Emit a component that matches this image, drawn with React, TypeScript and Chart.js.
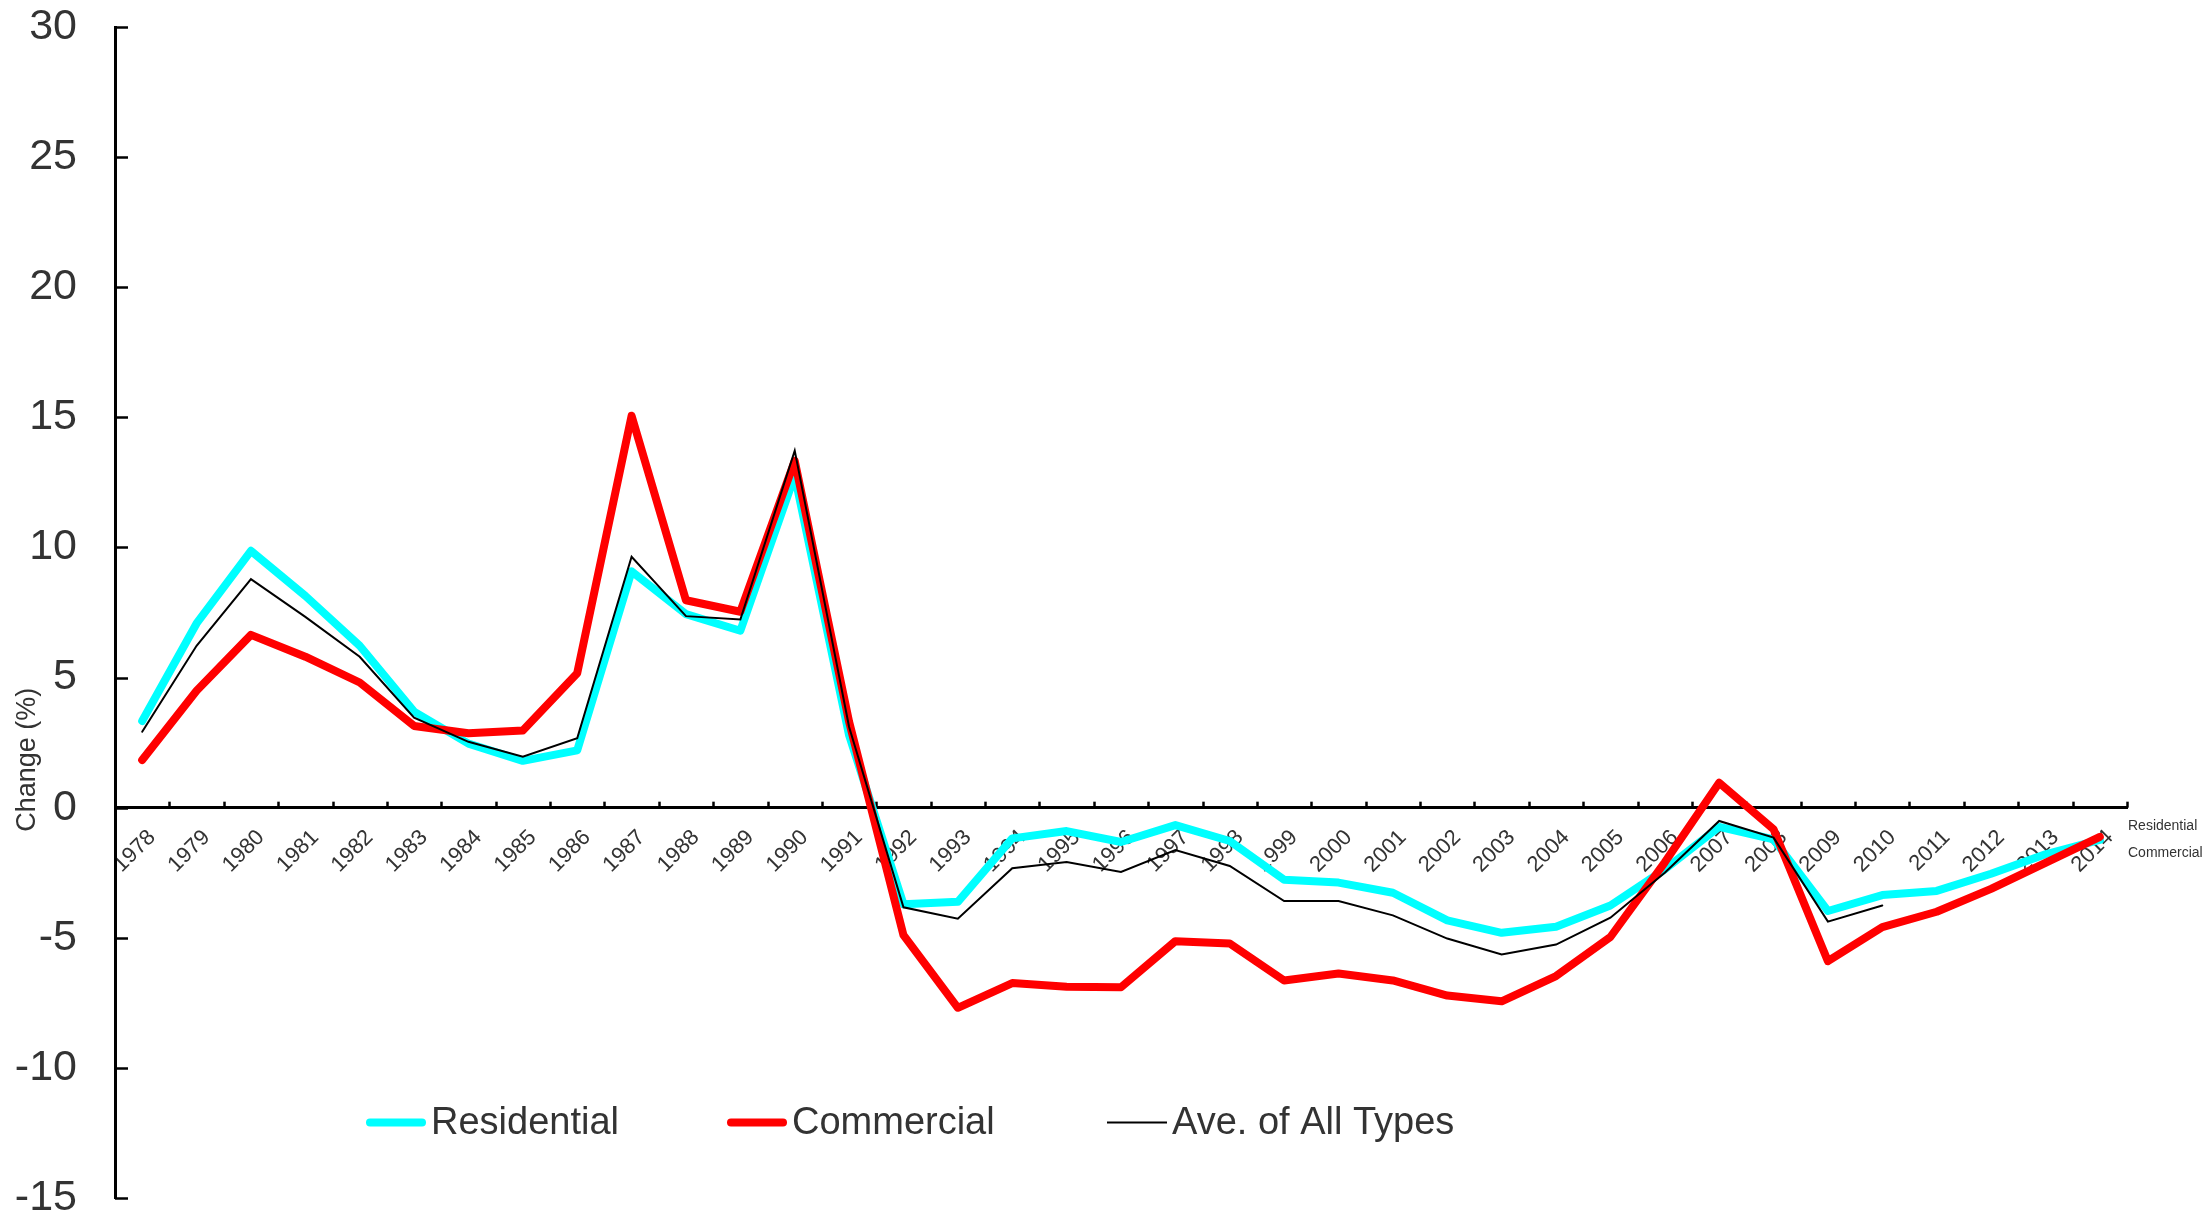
import React, { useEffect, useRef } from "react";
import { Chart, registerables } from "chart.js";

Chart.register(...registerables);

const years = [
  "1978", "1979", "1980", "1981", "1982", "1983", "1984", "1985", "1986", "1987",
  "1988", "1989", "1990", "1991", "1992", "1993", "1994", "1995", "1996", "1997",
  "1998", "1999", "2000", "2001", "2002", "2003", "2004", "2005", "2006", "2007",
  "2008", "2009", "2010", "2011", "2012", "2013", "2014",
];

const residential = [
  3.33, 7.08, 9.87, 8.14, 6.22, 3.69, 2.46, 1.8, 2.2, 9.08,
  7.44, 6.8, 12.76, 2.78, -3.71, -3.62, -1.18, -0.9, -1.32, -0.67,
  -1.28, -2.77, -2.88, -3.27, -4.33, -4.81, -4.58, -3.76, -2.37, -0.74,
  -1.22, -3.97, -3.36, -3.2, -2.54, -1.79, -1.24,
];

const commercial = [
  1.83, 4.49, 6.64, 5.8, 4.81, 3.14, 2.86, 2.97, 5.17, 15.06,
  7.97, 7.53, 13.33, 3.3, -4.9, -7.69, -6.74, -6.88, -6.9, -5.13,
  -5.22, -6.64, -6.37, -6.64, -7.22, -7.44, -6.47, -4.97, -2.1, 0.96,
  -0.83, -5.9, -4.59, -4.0, -3.12, -2.12, -1.12,
];

const averageAll = [
  2.92, 6.22, 8.78, 7.33, 5.8, 3.46, 2.53, 1.96, 2.67, 9.64,
  7.36, 7.23, 13.72, 3.1, -3.83, -4.27, -2.33, -2.09, -2.47, -1.63,
  -2.24, -3.59, -3.59, -4.14, -5.03, -5.64, -5.26, -4.23, -2.5, -0.51,
  -1.15, -4.38, -3.76, null, null, null, null,
];

const seriesNames = ["Residential", "Commercial", "Ave. of All Types"];
const seriesColors = ["#00FFFF", "#FF0000", "#000000"];
const seriesWidths = [8, 8, 2];

const yMin = -15;
const yMax = 30;
const yStep = 5;
const yTitle = "Change (%)";
const sideNotes = ["Residential", "Commercial"];

const FONT = '"Liberation Sans", Arial, Helvetica, sans-serif';
const TEXT = "#333333";

const decorPlugin = {
  id: "decor",
  beforeDatasetsDraw(chart: any) {
    const ctx = chart.ctx;
    const xs = chart.scales.x;
    const ys = chart.scales.y;
    const area = chart.chartArea;
    ctx.save();
    ctx.strokeStyle = "#000";
    ctx.lineWidth = 2.5;
    ys.ticks.forEach((t: any) => {
      const py = Math.round(ys.getPixelForValue(t.value)) + 0.5;
      ctx.beginPath();
      ctx.moveTo(area.left, py);
      ctx.lineTo(area.left + 13, py);
      ctx.stroke();
    });
    const y0 = ys.getPixelForValue(0);
    const half = (xs.getPixelForValue(1) - xs.getPixelForValue(0)) / 2;
    for (let i = 0; i < years.length; i++) {
      const px = Math.round(xs.getPixelForValue(i) + half) + 0.5;
      ctx.beginPath();
      ctx.moveTo(px, y0);
      ctx.lineTo(px, y0 - 6);
      ctx.stroke();
    }
    ctx.restore();
  },
  afterDraw(chart: any) {
    const ctx = chart.ctx;
    const area = chart.chartArea;
    const ys = chart.scales.y;
    ctx.save();
    ctx.fillStyle = TEXT;
    ctx.font = `27px ${FONT}`;
    ctx.translate(28, ys.getPixelForValue(1.84));
    ctx.rotate(-Math.PI / 2);
    ctx.textAlign = "center";
    ctx.textBaseline = "middle";
    ctx.fillText(yTitle, 0, 0);
    ctx.restore();

    ctx.save();
    const ly = ys.getPixelForValue(-12.1);
    const starts = [366, 727, 1107];
    const sample = 60;
    seriesNames.forEach((name, i) => {
      const x0 = starts[i];
      ctx.strokeStyle = seriesColors[i];
      ctx.lineWidth = seriesWidths[i];
      ctx.lineCap = i < 2 ? "round" : "butt";
      ctx.beginPath();
      ctx.moveTo(x0 + (i < 2 ? 4 : 0), ly);
      ctx.lineTo(x0 + sample - (i < 2 ? 4 : 0), ly);
      ctx.stroke();
      ctx.fillStyle = TEXT;
      ctx.font = `38px ${FONT}`;
      ctx.textAlign = "left";
      ctx.textBaseline = "middle";
      ctx.fillText(name, x0 + sample + 5, ly + 1);
    });

    ctx.font = `14px ${FONT}`;
    ctx.fillStyle = TEXT;
    ctx.textAlign = "left";
    ctx.textBaseline = "middle";
    ctx.fillText(sideNotes[0], area.right + 1, ys.getPixelForValue(-0.7));
    ctx.fillText(sideNotes[1], area.right + 1, ys.getPixelForValue(-1.73));
    ctx.restore();
  },
};

export default function App() {
  const canvasRef = useRef<HTMLCanvasElement | null>(null);

  useEffect(() => {
    const canvas = canvasRef.current;
    if (!canvas) return;
    const series = [residential, commercial, averageAll];
    const chart = new Chart(canvas, {
      type: "line",
      data: {
        labels: years,
        datasets: series.map((d, i) => ({
          label: seriesNames[i],
          data: d,
          borderColor: seriesColors[i],
          backgroundColor: seriesColors[i],
          borderWidth: seriesWidths[i],
          pointRadius: 0,
          pointHoverRadius: 0,
          tension: 0,
          fill: false,
          spanGaps: false,
          borderCapStyle: "round",
          borderJoinStyle: i < 2 ? "round" : "miter",
          order: 3 - i,
        })),
      },
      options: {
        responsive: false,
        animation: false,
        devicePixelRatio: 1,
        layout: { padding: { left: 0, top: 27, right: 79, bottom: 19 } },
        plugins: {
          legend: { display: false },
          tooltip: { enabled: false },
          title: { display: false },
        },
        scales: {
          x: {
            type: "category",
            position: { y: 0 },
            offset: true,
            grid: { display: false, drawTicks: false },
            border: { display: true, color: "#000", width: 3 },
            ticks: {
              autoSkip: false,
              minRotation: 45,
              maxRotation: 45,
              padding: 17,
              labelOffset: 10,
              color: TEXT,
              font: { family: FONT, size: 22 },
            },
            afterFit(scale: any) {
              scale.height = 0;
              scale.paddingLeft = 0;
              scale.paddingRight = 0;
            },
          },
          y: {
            type: "linear",
            position: "left",
            min: yMin,
            max: yMax,
            grid: { display: false, drawTicks: false },
            border: { display: true, color: "#000", width: 3 },
            ticks: {
              stepSize: yStep,
              padding: 38,
              color: TEXT,
              font: { family: FONT, size: 43, lineHeight: 1 },
            },
            afterFit(scale: any) {
              scale.width = 115;
              scale.paddingTop = 0;
              scale.paddingBottom = 0;
            },
          },
        },
      },
      plugins: [decorPlugin],
    });
    return () => chart.destroy();
  }, []);

  return (
    <div style={{ position: "absolute", left: 0, top: 0, width: 2206, height: 1217, background: "#fff" }}>
      <canvas ref={canvasRef} width={2206} height={1217} style={{ display: "block", width: 2206, height: 1217 }} />
    </div>
  );
}
